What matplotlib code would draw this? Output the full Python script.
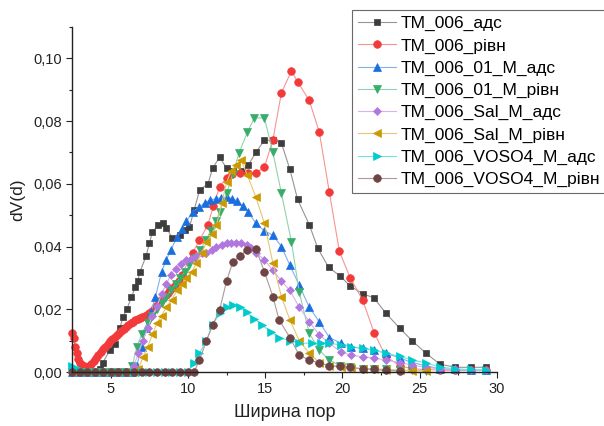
import matplotlib
matplotlib.use("Agg")
import matplotlib.pyplot as plt
from matplotlib.ticker import MultipleLocator, FuncFormatter
import matplotlib.colors as mcolors

plt.rcParams['font.family'] = ['Liberation Sans', 'DejaVu Sans']

labels = ["TM_006_адс", "TM_006_рівн", "TM_006_01_M_адс", "TM_006_01_M_рівн",
          "TM_006_Sal_M_адс", "TM_006_Sal_M_рівн", "TM_006_VOSO4_M_адс", "TM_006_VOSO4_M_рівн"]

x_adc = [2.5, 2.8, 3.1, 3.4, 3.7, 4.0, 4.3, 4.5, 4.95, 5.25, 5.6, 5.8, 6.05, 6.35, 6.6, 6.75, 6.9,
         7.3, 7.5, 7.7, 8.05, 8.4, 8.6, 9.0, 9.47, 9.8, 10.1, 10.4, 10.76, 11.3, 11.6, 12.05, 12.5,
         12.9, 13.5, 13.9, 14.4, 14.95, 15.5, 16.05, 16.6, 17.1, 17.85, 18.4, 19.1, 19.85, 20.5,
         21.3, 22.05, 22.8, 23.7, 24.5, 25.4, 26.3, 27.3, 28.3, 29.3]
y_adc = [0, 0, 0, 0, 0, 0, 0.001, 0.003, 0.007, 0.009, 0.014, 0.0175, 0.020, 0.024, 0.027, 0.029,
         0.032, 0.037, 0.041, 0.0445, 0.0468, 0.0474, 0.046, 0.0427, 0.0437, 0.0452, 0.0462, 0.0516,
         0.058, 0.060, 0.065, 0.0685, 0.065, 0.064, 0.064, 0.066, 0.070, 0.0739, 0.0739, 0.073,
         0.0646, 0.055, 0.047, 0.0395, 0.0334, 0.0306, 0.0274, 0.025, 0.0236, 0.0188, 0.014, 0.010,
         0.006, 0.0025, 0.0015, 0.0015, 0.0015]

x_rivn = [2.5, 2.6, 2.7, 2.8, 2.9, 3.0, 3.15, 3.3, 3.45, 3.6, 3.75, 3.9, 4.05, 4.2, 4.35, 4.5, 4.65,
          4.8, 4.95, 5.1, 5.25, 5.4, 5.55, 5.7, 5.85, 6.0, 6.15, 6.3, 6.45, 6.6, 6.75, 6.9, 7.05, 7.2,
          7.35, 7.5, 7.65, 7.8, 7.95, 8.1, 8.25, 8.4, 8.55, 8.7, 8.85, 9.0, 9.2, 9.4, 9.6, 10.3,
          10.75, 11.3, 11.65, 12.05, 12.5, 12.85, 13.4, 13.9, 14.4, 14.95, 15.5, 16.05, 16.7, 17.1,
          17.85, 18.5, 19.15, 19.8, 20.5, 21.3, 22.05, 22.8, 23.7, 24.5, 25.4, 26.3, 27.3, 28.3, 29.3]
y_rivn = [0.0124, 0.011, 0.008, 0.006, 0.004, 0.003, 0.0022, 0.0018, 0.0017, 0.0018, 0.0025, 0.0035,
          0.0045, 0.0055, 0.0063, 0.0072, 0.008, 0.0088, 0.0098, 0.0105, 0.0112, 0.0118, 0.0125,
          0.013, 0.0137, 0.0143, 0.015, 0.0155, 0.016, 0.0165, 0.0168, 0.0172, 0.0175, 0.0178,
          0.0183, 0.0188, 0.0194, 0.020, 0.021, 0.022, 0.023, 0.0237, 0.0245, 0.0253, 0.026, 0.0268,
          0.028, 0.029, 0.031, 0.038, 0.042, 0.047, 0.053, 0.059, 0.062, 0.063, 0.0635, 0.0635,
          0.0635, 0.0653, 0.074, 0.089, 0.096, 0.0925, 0.0866, 0.0765, 0.0574, 0.0385, 0.030, 0.023,
          0.0125, 0.005, 0.002, 0.001, 0.0008, 0.0006, 0.0005, 0.0005, 0.0005]

x_01_adc = [2.5, 3.0, 3.5, 4.0, 4.5, 5.0, 5.5, 6.0, 6.4, 6.7, 7.0, 7.3, 7.6, 7.9, 8.3, 8.6, 8.9, 9.3,
            9.6, 9.9, 10.3, 10.75, 11.1, 11.45, 11.8, 12.15, 12.5, 12.85, 13.2, 13.55, 13.9, 14.4,
            14.95, 15.5, 16.05, 16.6, 17.2, 17.85, 18.5, 19.15, 19.9, 20.55, 21.3, 22.05, 22.8,
            23.7, 24.5, 25.4, 26.3, 27.3, 28.3, 29.3]
y_01_adc = [0, 0, 0, 0, 0, 0, 0, 0, 0, 0.002, 0.008, 0.014, 0.019, 0.024, 0.032, 0.0357, 0.039,
            0.043, 0.0455, 0.048, 0.051, 0.0526, 0.054, 0.0548, 0.0553, 0.0556, 0.0557, 0.0553,
            0.0545, 0.053, 0.051, 0.0474, 0.045, 0.0436, 0.040, 0.034, 0.0277, 0.0207, 0.016, 0.011,
            0.0092, 0.008, 0.0075, 0.007, 0.006, 0.0045, 0.003, 0.002, 0.001, 0.0008, 0.0006, 0.0005]

x_01_rivn = [2.5, 3.0, 3.5, 4.0, 4.5, 5.0, 5.5, 6.0, 6.4, 6.7, 7.0, 7.4, 7.7, 8.0, 8.3, 8.6, 8.9,
             9.2, 9.5, 9.8, 10.1, 10.45, 10.8, 11.15, 11.5, 11.8, 12.05, 12.5, 12.9, 13.3, 13.85,
             14.3, 14.95, 15.5, 16.05, 16.7, 17.2, 17.85, 18.5, 19.15, 19.85, 20.5, 21.3, 22.05,
             22.8, 23.7, 24.5, 25.4]
y_01_rivn = [0, 0, 0, 0, 0, 0, 0, 0, 0.002, 0.008, 0.012, 0.0156, 0.018, 0.020, 0.022, 0.024, 0.026,
             0.028, 0.030, 0.032, 0.034, 0.0365, 0.039, 0.042, 0.045, 0.048, 0.051, 0.057, 0.063,
             0.0697, 0.0765, 0.081, 0.081, 0.070, 0.057, 0.0415, 0.0255, 0.0124, 0.007, 0.0038,
             0.002, 0.0015, 0.001, 0.001, 0.0008, 0.0006, 0.0005, 0.0004]

x_sal_adc = [2.5, 3.0, 3.5, 4.0, 4.5, 5.0, 5.5, 6.0, 6.5, 6.8, 7.1, 7.4, 7.7, 8.0, 8.3, 8.6, 8.9,
             9.2, 9.55, 9.9, 10.2, 10.55, 10.9, 11.2, 11.55, 11.85, 12.2, 12.5, 12.8, 13.1, 13.45,
             13.8, 14.1, 14.4, 14.95, 15.5, 16.05, 16.6, 17.2, 17.85, 18.5, 19.15, 19.9, 20.55, 21.3,
             22.05, 22.8, 23.7, 24.5, 25.4, 26.3, 27.3, 28.3, 29.3]
y_sal_adc = [0, 0, 0, 0, 0, 0, 0, 0, 0.002, 0.006, 0.010, 0.014, 0.018, 0.021, 0.025, 0.028, 0.031,
             0.033, 0.0345, 0.0357, 0.036, 0.037, 0.038, 0.038, 0.039, 0.040, 0.0405, 0.041, 0.041,
             0.041, 0.041, 0.0405, 0.0395, 0.038, 0.0357, 0.0325, 0.029, 0.026, 0.0207, 0.016,
             0.0118, 0.0092, 0.0064, 0.0054, 0.0048, 0.0045, 0.0038, 0.003, 0.0022, 0.0015, 0.001,
             0.0008, 0.0006, 0.0005]

x_sal_rivn = [2.5, 3.0, 3.5, 4.0, 4.5, 5.0, 5.5, 6.0, 6.5, 6.8, 7.1, 7.4, 7.7, 8.0, 8.3, 8.6, 8.95,
              9.3, 9.6, 9.9, 10.25, 10.55, 10.9, 11.2, 11.55, 11.85, 12.2, 12.5, 12.8, 13.1, 13.45,
              13.85, 14.4, 14.95, 15.5, 16.05, 16.6, 17.2, 17.85, 18.5, 19.15, 19.9, 20.55, 21.3,
              22.05, 22.8, 23.7, 24.5, 25.4]
y_sal_rivn = [0, 0, 0, 0, 0, 0, 0, 0, 0, 0.001, 0.0048, 0.008, 0.012, 0.0156, 0.018, 0.0207, 0.023,
              0.026, 0.028, 0.030, 0.032, 0.0347, 0.038, 0.0414, 0.044, 0.047, 0.054, 0.0605, 0.064,
              0.066, 0.0675, 0.0627, 0.0557, 0.0474, 0.0347, 0.024, 0.0166, 0.010, 0.006, 0.003,
              0.002, 0.0015, 0.0012, 0.001, 0.0008, 0.0006, 0.0005, 0.0004, 0.0004]

x_voso_adc = [2.5, 2.8, 3.1, 3.5, 4.0, 4.5, 5.0, 5.5, 6.0, 6.5, 7.0, 7.5, 8.0, 8.5, 9.0, 9.5, 10.0,
              10.4, 10.75, 11.2, 11.6, 12.05, 12.5, 12.9, 13.35, 13.8, 14.3, 14.8, 15.4, 15.9, 16.6,
              17.2, 18.0, 18.6, 19.15, 19.9, 20.55, 21.3, 22.05, 22.8, 23.7, 24.5, 25.4, 26.3, 27.3,
              28.3, 29.3]
y_voso_adc = [0.002, 0.001, 0.0005, 0, 0, 0, 0, 0, 0, 0, 0, 0, 0, 0, 0, 0, 0, 0.003, 0.006, 0.010,
              0.015, 0.0188, 0.0207, 0.0213, 0.0207, 0.019, 0.017, 0.015, 0.0127, 0.011, 0.010,
              0.0092, 0.0092, 0.0092, 0.0092, 0.0086, 0.008, 0.0076, 0.007, 0.006, 0.005, 0.0038,
              0.0029, 0.0016, 0.001, 0.0008, 0.0006]

x_voso_rivn = [2.5, 3.0, 3.5, 4.0, 4.5, 5.0, 5.5, 6.0, 6.5, 7.0, 7.5, 8.0, 8.5, 9.0, 9.5, 10.0,
               10.4, 10.75, 11.2, 11.6, 12.05, 12.5, 12.9, 13.35, 13.85, 14.4, 14.95, 15.5, 15.9,
               16.6, 17.2, 17.85, 18.5, 19.15, 19.85, 20.5, 21.3, 22.05, 22.8, 23.7]
y_voso_rivn = [0, 0, 0, 0, 0, 0, 0, 0, 0, 0, 0, 0, 0, 0, 0, 0, 0, 0.0038, 0.010, 0.015, 0.0197,
               0.029, 0.035, 0.037, 0.039, 0.0392, 0.032, 0.024, 0.0166, 0.011, 0.0054, 0.0038,
               0.0029, 0.002, 0.0018, 0.0015, 0.001, 0.0008, 0.0005, 0.0003]

series = [(x_adc, y_adc), (x_rivn, y_rivn), (x_01_adc, y_01_adc), (x_01_rivn, y_01_rivn),
          (x_sal_adc, y_sal_adc), (x_sal_rivn, y_sal_rivn), (x_voso_adc, y_voso_adc),
          (x_voso_rivn, y_voso_rivn)]

colors = ['#3d3d3d', '#f23a3a', '#1a6fdf', '#37ad6b', '#b177de', '#cc9900', '#00cbcc', '#6e4444']
markers = ['s', 'o', '^', 'v', 'D', '<', '>', 'o']
msizes = [5, 5.5, 5.5, 5.5, 4.5, 5.5, 5.5, 5.5]


def lighten(c, f=0.45):
    r, g, b = mcolors.to_rgb(c)
    return (r + (1 - r) * f, g + (1 - g) * f, b + (1 - b) * f)


fig = plt.figure(figsize=(6.04, 4.26), dpi=100)
ax = fig.add_axes([72 / 604, 1 - 372 / 426, (497 - 72) / 604, (372 - 27) / 426])

handles = []
for (xs, ys), c, m, ms, lab in zip(series, colors, markers, msizes, labels):
    h, = ax.plot(xs, ys, color=lighten(c), lw=0.8, marker=m, ms=ms, mfc=c, mec=c, mew=0.5,
                 label=lab, clip_on=False)
    handles.append(h)

ax.set_xlim(2.5, 30)
ax.set_ylim(0, 0.11)
ax.xaxis.set_major_locator(MultipleLocator(5))
ax.xaxis.set_minor_locator(MultipleLocator(2.5))
ax.yaxis.set_major_locator(MultipleLocator(0.02))
ax.yaxis.set_minor_locator(MultipleLocator(0.01))
ax.yaxis.set_major_formatter(FuncFormatter(lambda v, p: f"{v:.2f}".replace('.', ',')))
ax.xaxis.set_major_formatter(FuncFormatter(lambda v, p: f"{v:.0f}"))
for s in ['top', 'right']:
    ax.spines[s].set_visible(False)
for s in ['left', 'bottom']:
    ax.spines[s].set_linewidth(1.0)
    ax.spines[s].set_color('#222222')
ax.tick_params(which='major', direction='out', length=4, width=0.8, labelsize=10.5,
               colors='#222222', pad=3)
ax.tick_params(which='minor', direction='out', length=2, width=0.8, colors='#222222')

ax.set_xlabel("Ширина пор", fontsize=13, labelpad=6, color='#222222')
ax.set_ylabel("dV(d)", fontsize=12.5, labelpad=6, color='#222222')

leg = fig.legend(handles=handles, loc='upper left', bbox_to_anchor=(352 / 604, 1 - 10 / 426),
                 fontsize=12.5, frameon=True, fancybox=False, edgecolor='#444444',
                 borderpad=0.35, labelspacing=0.4, handlelength=2.2, handletextpad=0.25,
                 borderaxespad=0)
leg.get_frame().set_linewidth(0.8)

fig.savefig("out.png", dpi=100)
